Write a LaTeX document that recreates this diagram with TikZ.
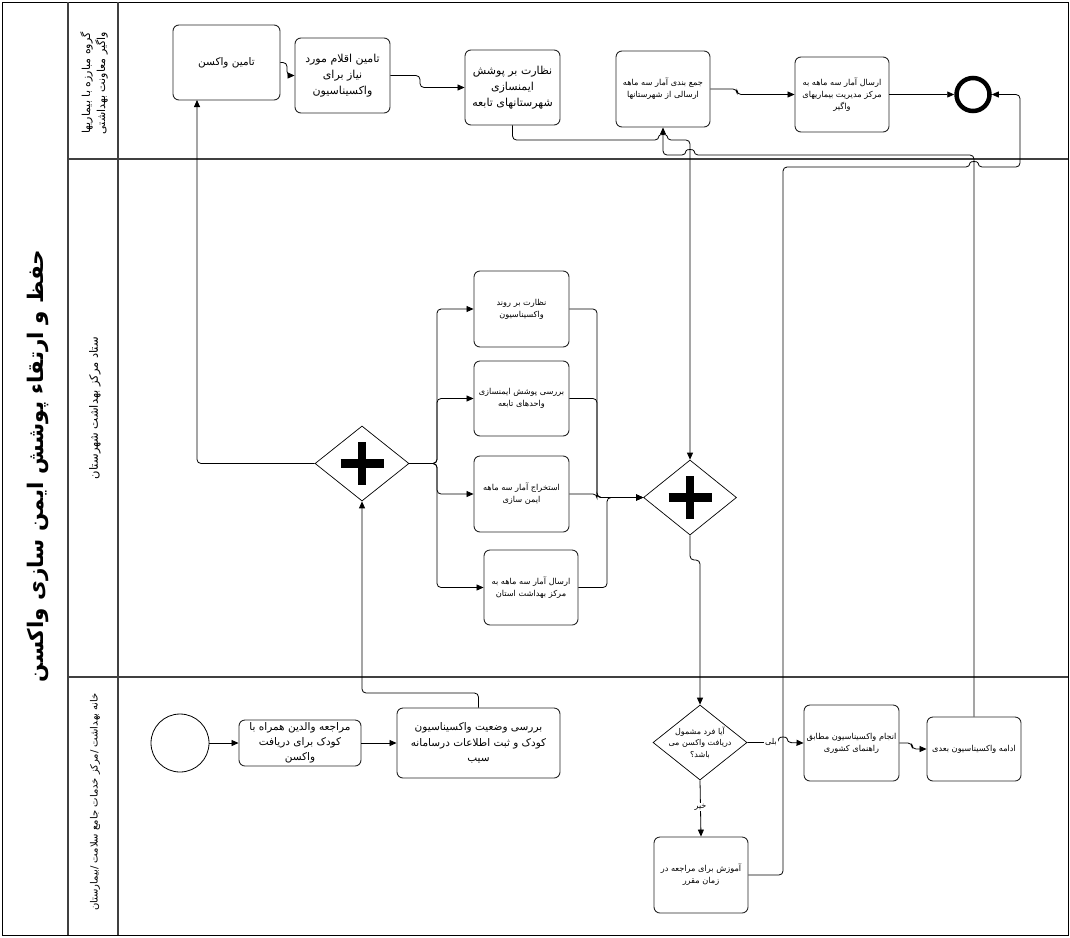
\documentclass[tikz,border=0pt]{standalone}
\usepackage{fontspec}
\setmainfont{DejaVu Sans}
\newfontfamily\fafont[Script=Arabic]{DejaVu Sans}
\TeXXeTstate=1
\usetikzlibrary{shapes.geometric,arrows.meta}
\newcommand{\fa}[1]{{\fafont\beginR #1\endR}}
\begin{document}
\begin{tikzpicture}[x=1pt,y=-1pt,
  task/.style={draw=black!85, rounded corners=6pt, line width=0.9pt, align=center, inner sep=2pt, font=\fontsize{10.5}{15.5}\selectfont},
  big/.style={font=\fontsize{11}{16}\selectfont},
  small/.style={font=\fontsize{8.2}{12}\selectfont},
  gate/.style={draw, diamond, inner sep=0pt, line width=0.7pt},
  flow/.style={line width=0.8pt, -{Triangle[length=7pt,width=6pt]}, rounded corners=4pt},
  lane/.style={line width=1.3pt, black!75},
  plus/.style={line width=8.5pt},
  lbl/.style={fill=white, inner sep=1pt, font=\fontsize{8}{10}\selectfont}]
\useasboundingbox (0,0) rectangle (1070,937);
% pool and lanes
\draw[line width=0.9pt] (2,2) rectangle (1068,935);
\draw[lane] (68,2) -- (68,935);
\draw[lane] (118,2) -- (118,935);
\draw[lane] (68,159) -- (1068,159);
\draw[lane] (68,677) -- (1068,677);
\node[rotate=90, font=\bfseries\fontsize{21.5}{26}\selectfont] (title) at (38,466) {\fa{\bfseries حفظ و ارتقاء پوشش ایمن سازی واکسن}};
\node[rotate=90, align=center, font=\fontsize{11}{15}\selectfont] (lane1) at (94,83) {\fa{گروه مبارزه با بیماریها}\\\fa{واگیر معاونت بهداشتی}};
\node[rotate=90, font=\fontsize{11.5}{13}\selectfont] (lane2) at (95,408) {\fa{ستاد مرکز بهداشت شهرستان}};
\node[rotate=90, font=\fontsize{10}{12}\selectfont] (lane3) at (95,802) {\fa{خانه بهداشت /مرکز خدمات جامع سلامت /بیمارستان}};
% top lane
\node[task, minimum width=107pt, minimum height=75pt] (t1) at (226.5,62.5) {\fa{تامین واکسن}};
\node[task, big, minimum width=95pt, minimum height=75pt] (t2) at (342.5,75.5) {\fa{تامین  اقلام مورد}\\\fa{نیاز برای}\\\fa{واکسیناسیون}};
\node[task, big, minimum width=95pt, minimum height=75pt] (t3) at (512.5,87.5) {\fa{نظارت بر پوشش}\\\fa{ایمنسازی}\\\fa{شهرستانهای تابعه}};
\node[task, small, minimum width=94pt, minimum height=76pt] (t4) at (663,89) {\fa{جمع بندی آمار سه ماهه}\\\fa{ارسالی از شهرستانها}};
\node[task, small, minimum width=94pt, minimum height=75pt] (t5) at (842,94.5) {\fa{ارسال آمار سه ماهه به}\\\fa{مرکز مدیریت بیماریهای}\\\fa{واگیر}};
\node[draw, circle, line width=4.5pt, minimum size=33pt, inner sep=0pt] (end) at (973,94.5) {};
% middle lane
\node[gate, minimum width=94pt, minimum height=75pt] (g1) at (362,463.5) {};
\draw[plus] (g1.center) ++(-21.5,0) -- ++(43,0);
\draw[plus] (g1.center) ++(0,-21.5) -- ++(0,43);
\node[task, small, minimum width=95pt, minimum height=76pt] (A) at (521.5,309) {\fa{نظارت بر روند}\\\fa{واکسیناسیون}};
\node[task, small, minimum width=95pt, minimum height=75pt] (B) at (521.5,398.5) {\fa{بررسی پوشش ایمنسازی}\\\fa{واحدهای تابعه}};
\node[task, small, minimum width=95pt, minimum height=76pt] (C) at (521.5,494) {\fa{استخراج آمار سه ماهه}\\\fa{ایمن سازی}};
\node[task, small, minimum width=94pt, minimum height=75pt] (D) at (531,587.5) {\fa{ارسال آمار سه ماهه به}\\\fa{مرکز بهداشت استان}};
\node[gate, minimum width=93pt, minimum height=75pt] (g2) at (690,497.5) {};
\draw[plus] (g2.center) ++(-21.5,0) -- ++(43,0);
\draw[plus] (g2.center) ++(0,-21.5) -- ++(0,43);
% bottom lane
\node[draw, circle, line width=0.8pt, minimum size=58pt, inner sep=0pt] (start) at (180,743) {};
\node[task, minimum width=122pt, minimum height=46pt, font=\fontsize{10.5}{15}\selectfont] (m1) at (300,743) {\fa{مراجعه والدین همراه با}\\\fa{کودک برای دریافت}\\\fa{واکسن}};
\node[task, minimum width=163pt, minimum height=70pt] (m2) at (478.5,743) {\fa{بررسی وضعیت واکسیناسیون}\\\fa{کودک و ثبت اطلاعات درسامانه}\\\fa{سیب}};
\node[gate, minimum width=94pt, minimum height=75pt] (dec) at (700,742.5) {};
\node[align=center, font=\fontsize{8}{11.5}\selectfont] (dectext) at (dec.center) {\fa{آیا فرد مشمول}\\\fa{دریافت واکسن می}\\\fa{باشد؟}};
\node[task, small, minimum width=95pt, minimum height=76pt] (e1) at (851.5,743) {\fa{انجام واکسیناسیون مطابق}\\\fa{راهنمای کشوری}};
\node[task, small, minimum width=94pt, minimum height=64pt] (e2) at (974,749) {\fa{ادامه واکسیناسیون بعدی}};
\node[task, small, minimum width=94pt, minimum height=76pt] (e3) at (701,875) {\fa{آموزش برای مراجعه در}\\\fa{زمان مقرر}};
% connectors top lane
\draw[flow] (t1.east) -- (287,62.5) -- (287,75.5) -- (t2.west);
\draw[flow] (t2.east) -- (420,75.5) -- (420,87.5) -- (t3.west);
\draw[flow] (t4.east) -- (737,89) -- (737,94.5) -- (t5.west);
\draw[flow] (t5.east) -- (end.west);
\draw[flow] (t3.south) -- (512.5,140) -- (659,140) .. controls (659,134) and (667,134) .. (667,140) -- (690,140) -- (g2.north);
\draw[flow] (e2.north) -- (974,155) -- (694,155) .. controls (694,149) and (686,149) .. (686,155) -- (663,155) -- (t4.south);
\draw[flow] (e3.east) -- (783,875) -- (783,167) -- (970,167) .. controls (970,161) and (978,161) .. (978,167) -- (1020,167) -- (1020,94.5) -- (end.east);
% middle lane connectors
\draw[flow] (g1.west) -- (197,463.5) -- (197,100);
\draw[flow] (g1.east) -- (437,463.5) -- (437,309) -- (A.west);
\draw[flow] (g1.east) -- (437,463.5) -- (437,398.5) -- (B.west);
\draw[flow] (g1.east) -- (437,463.5) -- (437,494) -- (C.west);
\draw[flow] (g1.east) -- (437,463.5) -- (437,587.5) -- (D.west);
\draw[flow] (A.east) -- (597,309) -- (597,497.5) -- (g2.west);
\draw[flow] (B.east) -- (597,398.5) -- (597,497.5) -- (g2.west);
\draw[flow] (C.east) -- (597,494) -- (597,497.5) -- (g2.west);
\draw[flow] (D.east) -- (607,587.5) -- (607,497.5) -- (g2.west);
\draw[flow] (g2.south) -- (690,560) -- (700,560) -- (dec.north);
% bottom lane connectors
\draw[flow] (m2.north) -- (478.5,693) -- (362,693) -- (g1.south);
\draw[flow] (start.east) -- (m1.west);
\draw[flow] (m1.east) -- (m2.west);
\draw[flow] (dec.east) -- (779,742.5) .. controls (779,736.5) and (787,736.5) .. (787,742.5) -- (e1.west);
\node[lbl] (yes) at (771,742.5) {\fa{بلی}};
\draw[flow] (dec.south) -- (e3.north);
\node[lbl] (no) at (700.5,807) {\fa{خیر}};
\draw[flow] (e1.east) -- (912,743) -- (912,749) -- (e2.west);
\end{tikzpicture}
\end{document}
